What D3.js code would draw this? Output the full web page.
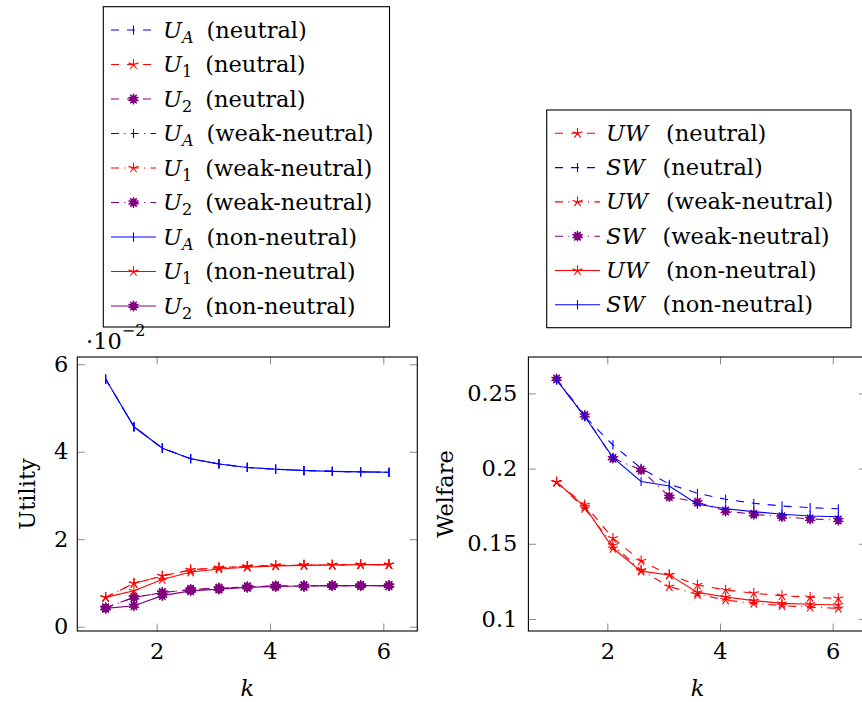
<!DOCTYPE html>
<html><head><meta charset="utf-8">
<script src="https://cdn.jsdelivr.net/npm/d3@7"></script>
<style>
body{margin:0;background:#fff;}
svg{display:block;}
text{font-family:"DejaVu Serif",serif;fill:#000;}
</style></head>
<body>
<svg id="c" width="862" height="702"></svg>
<script>
// ---------- data ----------
const kValues = [1.1, 1.6, 2.1, 2.6, 3.1, 3.6, 4.1, 4.6, 5.1, 5.6, 6.1];

// Utility (·10^-2)
const uA_neutral = [5.66, 4.57, 4.08, 3.84, 3.72, 3.64, 3.60, 3.57, 3.55, 3.54, 3.53];
const u1_neutral = [0.67, 0.99, 1.16, 1.30, 1.35, 1.38, 1.40, 1.41, 1.41, 1.42, 1.42];
const u2_neutral = [0.43, 0.67, 0.78, 0.85, 0.88, 0.91, 0.93, 0.93, 0.94, 0.94, 0.94];
const uA_weak    = [5.66, 4.57, 4.08, 3.84, 3.72, 3.64, 3.60, 3.57, 3.55, 3.54, 3.53];
const u1_weak    = [0.67, 0.99, 1.16, 1.30, 1.35, 1.38, 1.40, 1.41, 1.41, 1.42, 1.42];
const u2_weak    = [0.43, 0.67, 0.78, 0.85, 0.88, 0.91, 0.93, 0.93, 0.94, 0.94, 0.94];
const uA_non     = [5.66, 4.57, 4.08, 3.84, 3.72, 3.64, 3.60, 3.57, 3.55, 3.54, 3.53];
const u1_non     = [0.67, 0.82, 1.08, 1.25, 1.32, 1.36, 1.39, 1.40, 1.41, 1.42, 1.42];
const u2_non     = [0.42, 0.48, 0.71, 0.82, 0.86, 0.90, 0.92, 0.93, 0.94, 0.94, 0.94];

// Welfare
const uw_neutral = [0.191, 0.1760, 0.1537, 0.1386, 0.1293, 0.1226, 0.1193, 0.1171, 0.1155, 0.1144, 0.1137];
const sw_neutral = [0.259, 0.2346, 0.2157, 0.2002, 0.1896, 0.1836, 0.1796, 0.1769, 0.1751, 0.1740, 0.1733];
const uw_weak    = [0.191, 0.1735, 0.1490, 0.1325, 0.1215, 0.1164, 0.1126, 0.1104, 0.1089, 0.1078, 0.1071];
const sw_weak    = [0.2596, 0.2353, 0.2069, 0.1991, 0.1813, 0.1776, 0.1718, 0.1696, 0.1680, 0.1665, 0.1658];
const uw_non     = [0.191, 0.1747, 0.1470, 0.1318, 0.1293, 0.1177, 0.1146, 0.1122, 0.1104, 0.1098, 0.1093];
const sw_non     = [0.259, 0.2346, 0.2073, 0.1914, 0.1884, 0.1763, 0.1733, 0.1714, 0.1696, 0.1685, 0.1680];

const xTicks = [2, 4, 6];
const utilTicks = [0, 2, 4, 6];
const welfTicks = [0.1, 0.15, 0.2, 0.25];

// ---------- styles ----------
const BLUE = "#0000ff", RED = "#ff0000", PURPLE = "#800080";
const DASH = "8,8", DASHDOT = "8,5.3,1.1,5.3", SOLID = null;

const utilSeries = [
  {data: uA_neutral, color: BLUE,   dash: DASH,    mark: "bar",    sym: "U", sub: "A", tag: "neutral"},
  {data: u1_neutral, color: RED,    dash: DASH,    mark: "star",   sym: "U", sub: "1", tag: "neutral"},
  {data: u2_neutral, color: PURPLE, dash: DASH,    mark: "star10", sym: "U", sub: "2", tag: "neutral"},
  {data: uA_weak,    color: BLUE,   dash: DASHDOT, mark: "bar",    sym: "U", sub: "A", tag: "weak-neutral"},
  {data: u1_weak,    color: RED,    dash: DASHDOT, mark: "star",   sym: "U", sub: "1", tag: "weak-neutral"},
  {data: u2_weak,    color: PURPLE, dash: DASHDOT, mark: "star10", sym: "U", sub: "2", tag: "weak-neutral"},
  {data: uA_non,     color: BLUE,   dash: SOLID,   mark: "bar",    sym: "U", sub: "A", tag: "non-neutral"},
  {data: u1_non,     color: RED,    dash: SOLID,   mark: "star",   sym: "U", sub: "1", tag: "non-neutral"},
  {data: u2_non,     color: PURPLE, dash: SOLID,   mark: "star10", sym: "U", sub: "2", tag: "non-neutral"}
];
const welfSeries = [
  {data: uw_neutral, color: RED,    dash: DASH,    mark: "star",   sym: "UW", tag: "neutral"},
  {data: sw_neutral, color: BLUE,   dash: DASH,    mark: "bar",    sym: "SW", tag: "neutral"},
  {data: uw_weak,    color: RED,    dash: DASHDOT, mark: "star",   sym: "UW", tag: "weak-neutral"},
  {data: sw_weak,    color: PURPLE, dash: DASHDOT, mark: "star10", sym: "SW", tag: "weak-neutral"},
  {data: uw_non,     color: RED,    dash: SOLID,   mark: "star",   sym: "UW", tag: "non-neutral"},
  {data: sw_non,     color: BLUE,   dash: SOLID,   mark: "bar",    sym: "SW", tag: "non-neutral"}
];

const FS = 22.5;
const svg = d3.select("#c");
svg.append("rect").attr("width", 862).attr("height", 702).attr("fill", "#fff");

function markPath(type) {
  if (type === "bar") return "M0,-4.6V4.6";
  if (type === "star") {
    let p = "";
    for (let i = 0; i < 5; i++) {
      const a = (-90 + 72 * i) * Math.PI / 180;
      p += `M0,0L${(5.3 * Math.cos(a)).toFixed(2)},${(5.3 * Math.sin(a)).toFixed(2)}`;
    }
    return p;
  }
  // 10-pointed star
  let pts = [];
  for (let i = 0; i < 20; i++) {
    const r = i % 2 === 0 ? 5.3 : 2.2;
    const a = (-90 + 18 * i) * Math.PI / 180;
    pts.push([r * Math.cos(a), r * Math.sin(a)]);
  }
  return "M" + pts.map(p => p[0].toFixed(2) + "," + p[1].toFixed(2)).join("L") + "Z";
}

function drawMark(g, type, color, x, y) {
  const p = g.append("path").attr("d", markPath(type)).attr("transform", `translate(${x},${y})`)
    .attr("stroke", color).attr("stroke-width", 1.1).attr("stroke-linejoin", "miter");
  if (type === "star10") p.attr("fill", color); else p.attr("fill", "none");
}

function drawPanel(opts) {
  const {x, y, series, xT, yT, yFmt, yLabel, padY} = opts;
  const g = svg.append("g");
  const tickLen = 7.5;
  const ax = [
    d3.axisBottom(x).tickValues(xT).tickSizeInner(-tickLen).tickSizeOuter(0).tickPadding(12).tickFormat(d3.format("d")),
    d3.axisTop(x).tickValues(xT).tickSizeInner(-tickLen).tickSizeOuter(0).tickFormat(""),
    d3.axisLeft(y).tickValues(yT).tickSizeInner(-tickLen).tickSizeOuter(0).tickPadding(padY).tickFormat(yFmt),
    d3.axisRight(y).tickValues(yT).tickSizeInner(-tickLen).tickSizeOuter(0).tickFormat("")
  ];
  const [x0, x1] = x.range(), [y0, y1] = y.range();
  const pos = [`translate(0,${y0})`, `translate(0,${y1})`, `translate(${x0},0)`, `translate(${x1},0)`];
  ax.forEach((a, i) => {
    const ag = g.append("g").attr("transform", pos[i]).call(a);
    ag.select(".domain").remove();
    ag.selectAll("line").attr("stroke", "#8c8c8c").attr("stroke-width", 1);
    ag.selectAll("text").attr("font-family", "DejaVu Serif").attr("font-size", FS).attr("fill", "#000");
  });
  const clipId = "clip" + Math.round(x0);
  svg.append("clipPath").attr("id", clipId).append("rect")
    .attr("x", x0).attr("y", y1).attr("width", x1 - x0).attr("height", y0 - y1);
  const dg = g.append("g").attr("clip-path", `url(#${clipId})`);
  const line = d3.line().x((d, i) => x(kValues[i])).y(d => y(d));
  series.forEach(s => {
    dg.append("path").attr("d", line(s.data)).attr("fill", "none")
      .attr("stroke", s.color).attr("stroke-width", 1.1)
      .attr("stroke-dasharray", s.dash);
    s.data.forEach((v, i) => drawMark(dg, s.mark, s.color, x(kValues[i]), y(v)));
  });
  g.append("rect").attr("x", x0).attr("y", y1).attr("width", x1 - x0).attr("height", y0 - y1)
    .attr("fill", "none").attr("stroke", "#000").attr("stroke-width", 1.1);
  g.append("text").attr("x", (x0 + x1) / 2).attr("y", 696).attr("text-anchor", "middle")
    .attr("font-size", FS).attr("font-style", "italic").text("k");
  g.append("text").attr("transform", `translate(${opts.yLabelX},${(y0 + y1) / 2}) rotate(-90)`)
    .attr("text-anchor", "middle").attr("font-size", FS).text(yLabel);
}

const xL = d3.scaleLinear().domain([0.6, 6.6]).range([77.3, 417.3]);
const yL = d3.scaleLinear().domain([-0.098, 6.165]).range([631, 357]);
const xR = d3.scaleLinear().domain([0.6, 6.6]).range([528.4, 866.5]);
const yR = d3.scaleLinear().domain([0.092, 0.2742]).range([631, 357]);

drawPanel({x: xL, y: yL, series: utilSeries, xT: xTicks, yT: utilTicks, yFmt: d3.format("d"),
  yLabel: "Utility", yLabelX: 35, padY: 9});
drawPanel({x: xR, y: yR, series: welfSeries, xT: xTicks, yT: welfTicks, yFmt: d => String(+d.toFixed(2)),
  yLabel: "Welfare", yLabelX: 453, padY: 11});

// scale label ·10^-2
const sl = svg.append("text").attr("x", 86).attr("y", 349).attr("font-size", FS);
sl.append("tspan").text("·10");
sl.append("tspan").attr("font-size", 16).attr("dy", -13).text("−2");

// ---------- legends ----------
function drawLegend(box, rows, series, lineX0, lineX1, textX, gap) {
  const g = svg.append("g");
  series.forEach((s, i) => {
    const cy = rows[0] + i * rows[1];
    g.append("line").attr("x1", lineX0).attr("x2", lineX1).attr("y1", cy).attr("y2", cy)
      .attr("stroke", s.color).attr("stroke-width", 1.1).attr("stroke-dasharray", s.dash);
    drawMark(g, s.mark, s.color, (lineX0 + lineX1) / 2, cy);
    const t = g.append("text").attr("x", textX).attr("y", cy + 7.5).attr("font-size", FS);
    t.append("tspan").attr("font-style", "italic").text(s.sym);
    if (s.sub) {
      t.append("tspan").attr("font-style", s.sub === "A" ? "italic" : "normal")
        .attr("font-size", 16).attr("dy", 5).text(s.sub);
      t.append("tspan").attr("dy", -5).attr("dx", gap).text("(" + s.tag + ")");
    } else {
      t.append("tspan").attr("dx", gap).text("(" + s.tag + ")");
    }
  });
  g.append("rect").attr("x", box[0]).attr("y", box[1]).attr("width", box[2] - box[0]).attr("height", box[3] - box[1])
    .attr("fill", "none").attr("stroke", "#000").attr("stroke-width", 1.1);
}
drawLegend([103.3, 6.7, 389.5, 327], [30, 34.5], utilSeries, 111, 156, 163, 13);
drawLegend([546.7, 110, 851, 327.7], [133.3, 34.3], welfSeries, 555, 600, 606, 18);
</script>
</body></html>
